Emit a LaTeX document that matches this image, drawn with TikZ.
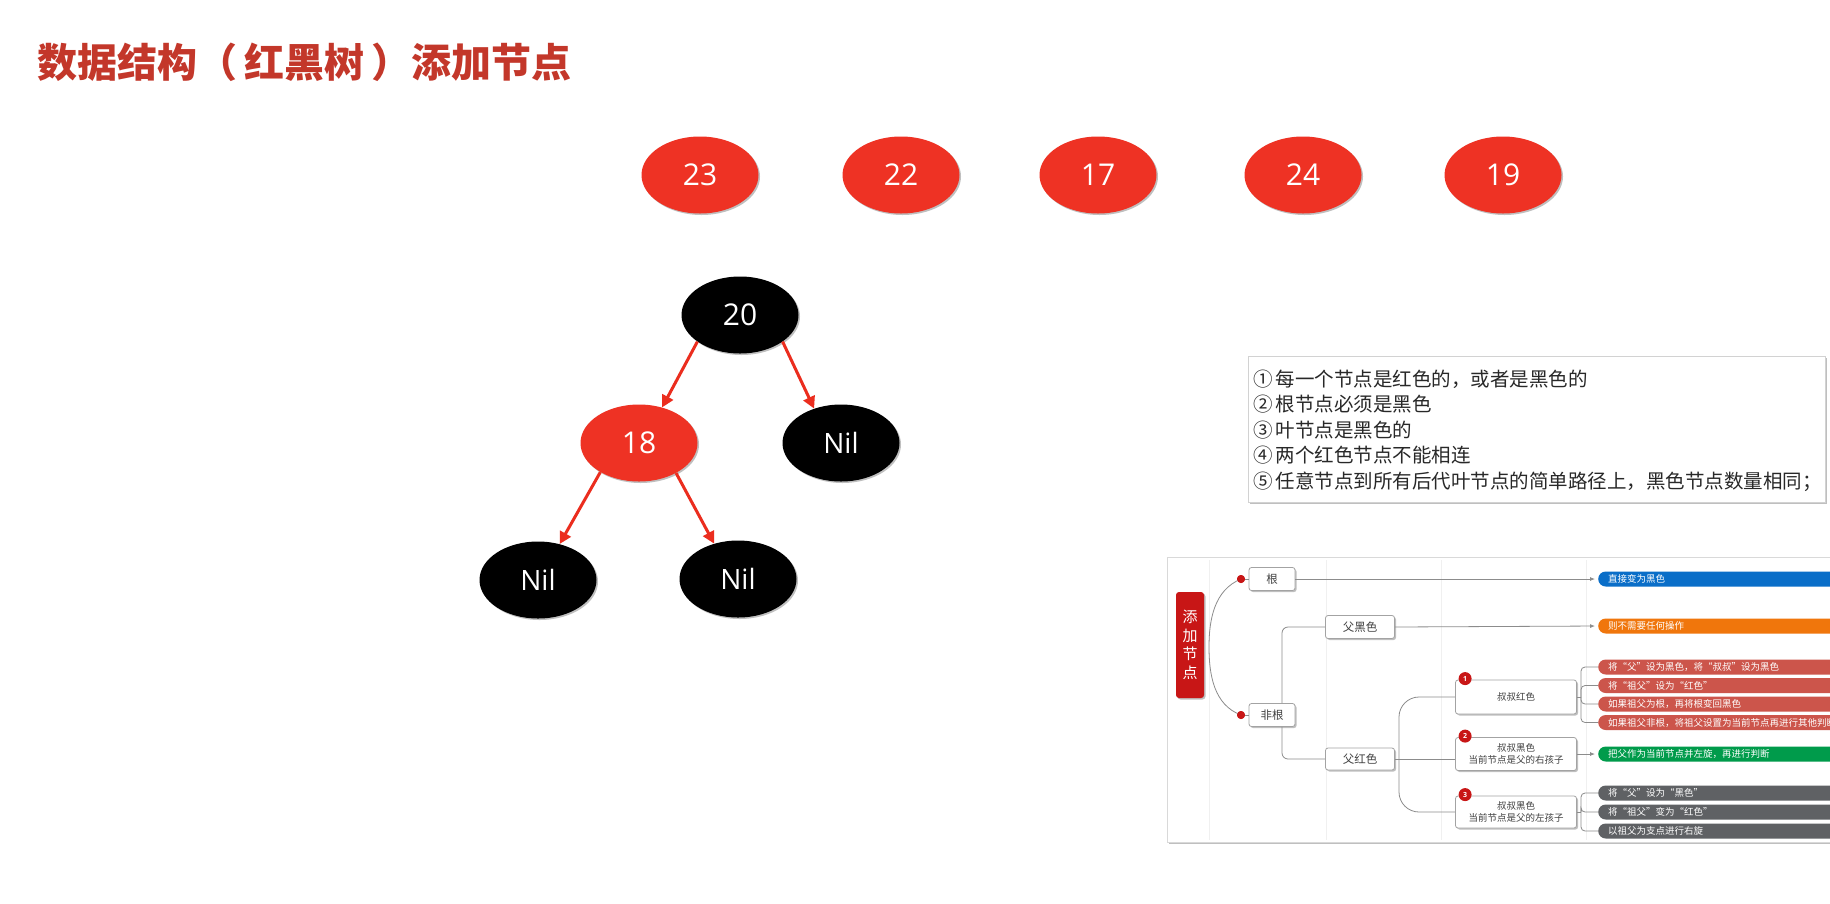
\documentclass[tikz,border=0pt]{standalone}
\usepackage{fontspec}
\setmainfont{Noto Sans CJK SC}
\newfontfamily\cjk{Noto Sans CJK SC}
\newfontfamily\numf{Open Sans}
\usetikzlibrary{shapes.geometric,arrows.meta,shadows}
\definecolor{nodered}{RGB}{238,50,36}
\definecolor{titlered}{RGB}{195,55,42}
\definecolor{arrowred}{RGB}{235,45,30}
\definecolor{mmred}{RGB}{200,22,22}
\definecolor{barred}{RGB}{204,85,75}
\definecolor{barblue}{RGB}{10,110,200}
\definecolor{barorange}{RGB}{240,118,12}
\definecolor{bargreen}{RGB}{0,155,75}
\definecolor{bargray}{RGB}{95,97,100}
\definecolor{linegray}{RGB}{140,140,140}
\definecolor{rulestext}{RGB}{40,40,40}
\begin{document}
\begin{tikzpicture}[x=1pt,y=-1pt,
  softshadow/.style={drop shadow={shadow xshift=1.5pt,shadow yshift=-1.5pt,opacity=0.25,fill=black}},
  ell/.style={ellipse,minimum width=117pt,minimum height=77pt,inner sep=0pt,text=white,
    font=\numf\fontsize{30}{36}\selectfont,softshadow},
  redell/.style={ell,fill=nodered},
  blkell/.style={ell,fill=black},
  treearrow/.style={draw=arrowred,line width=3pt,-{Triangle[length=12pt,width=12pt]}},
  conn/.style={draw=linegray,line width=0.8pt},
  mmbox/.style={draw=linegray!80,fill=white,rounded corners=2.5pt,line width=0.8pt,inner sep=0pt,
    text=black!75,align=center,softshadow},
  bar/.style={anchor=west,rounded corners=7.5pt,minimum height=15pt,minimum width=320pt,
    text width=300pt,inner xsep=10pt,inner ysep=0pt,align=left,text=white,
    font=\cjk\fontsize{9.5}{11}\selectfont},
  reddot/.style={circle,fill=mmred,minimum size=8pt,inner sep=0pt},
  numc/.style={circle,fill=mmred,minimum size=13pt,inner sep=0pt,text=white,
    font=\numf\bfseries\fontsize{7}{8}\selectfont},
  rule/.style={anchor=base west,inner sep=0pt,text=rulestext,font=\cjk\fontsize{19.5}{24}\selectfont},
  tip/.style={-{Latex[length=5pt,width=4pt]},shorten >=3pt}]
\useasboundingbox (0,0) rectangle (1830,903);
\clip (0,0) rectangle (1830,903);
\fill[white] (0,0) rectangle (1830,903);

% title
\node[anchor=west,inner sep=0pt,text=titlered,font=\cjk\bfseries\fontsize{40}{48}\selectfont] (title) at (37,62) {数据结构（\hspace{7pt}红黑树\hspace{7pt}）添加节点};

% sequence of values to insert
\node[redell] (v23) at (700,175) {23};
\node[redell] (v22) at (901,175) {22};
\node[redell] (v17) at (1098,175) {17};
\node[redell] (v24) at (1303,175) {24};
\node[redell] (v19) at (1503,175) {19};

% tree
\node[blkell] (n20) at (740,315) {20};
\node[redell] (n18) at (639,443) {18};
\node[blkell,font=\numf\fontsize{28}{34}\selectfont] (nilR) at (841,443) {Nil};
\node[blkell,font=\numf\fontsize{28}{34}\selectfont] (nilLL) at (538,580) {Nil};
\node[blkell,font=\numf\fontsize{28}{34}\selectfont] (nilLR) at (738,579) {Nil};
\draw[treearrow] (n20.212) -- (n18.57);
\draw[treearrow] (n20.-32) -- (nilR.128);
\draw[treearrow] (n18.217) -- (nilLL.59);
\draw[treearrow] (n18.-39) -- (nilLR.124);

% rules box
\node[draw=gray!35,fill=white,softshadow,anchor=north west,minimum width=577pt,minimum height=146pt,inner sep=0pt] (rulesbox) at (1248,356) {};
\node[rule] (r1) at (1253,386) {①\,每一个节点是红色的，或者是黑色的};
\node[rule] (r2) at (1253,411.5) {②\,根节点必须是黑色};
\node[rule] (r3) at (1253,437) {③\,叶节点是黑色的};
\node[rule] (r4) at (1253,462.5) {④\,两个红色节点不能相连};
\node[rule] (r5) at (1253,488) {⑤\,任意节点到所有后代叶节点的简单路径上，黑色节点数量相同；};

% mind map frame
\node[draw=gray!30,fill=white,softshadow,anchor=north west,minimum width=700pt,minimum height=285pt,inner sep=0pt] (mmframe) at (1167,557) {};
\foreach \gx in {1209,1326,1441,1586} \draw[gray!12,line width=0.6pt] (\gx,560) -- (\gx,840);

% mind map nodes
\node[fill=mmred,rounded corners=3pt,minimum width=28pt,minimum height=106pt,inner sep=0pt,text=white,
  align=center,font=\cjk\fontsize{15}{18.5}\selectfont,softshadow] (main) at (1190,645) {添\\加\\节\\点};
\node[mmbox,minimum width=46pt,minimum height=23pt,font=\cjk\fontsize{11.5}{13}\selectfont] (gen) at (1272,579) {根};
\node[mmbox,minimum width=46pt,minimum height=23pt,font=\cjk\fontsize{11.5}{13}\selectfont] (feigen) at (1272,715) {非根};
\node[mmbox,minimum width=69pt,minimum height=23pt,font=\cjk\fontsize{11.5}{13}\selectfont] (fuhei) at (1360,627) {父黑色};
\node[mmbox,minimum width=69pt,minimum height=22pt,font=\cjk\fontsize{11.5}{13}\selectfont] (fuhong) at (1360,759) {父红色};
\node[mmbox,minimum width=121pt,minimum height=34pt,font=\cjk\fontsize{9.5}{12}\selectfont] (box1) at (1516,697) {叔叔红色};
\node[mmbox,minimum width=121pt,minimum height=33pt,font=\cjk\fontsize{9.5}{12}\selectfont] (box2) at (1516,754) {叔叔黑色\\当前节点是父的右孩子};
\node[mmbox,minimum width=121pt,minimum height=32pt,font=\cjk\fontsize{9.5}{12}\selectfont] (box3) at (1516,812) {叔叔黑色\\当前节点是父的左孩子};
\node[numc] (c1) at ([xshift=10pt,yshift=1pt]box1.north west) {1};
\node[numc] (c2) at ([xshift=10pt,yshift=1pt]box2.north west) {2};
\node[numc] (c3) at ([xshift=10pt,yshift=1pt]box3.north west) {3};

% bars
\node[bar,fill=barblue] (bblue) at (1598,579) {直接变为黑色};
\node[bar,fill=barorange] (borange) at (1598,626) {则不需要任何操作};
\node[bar,fill=barred] (bred1) at (1598,667) {将“父”设为黑色，将“叔叔”设为黑色};
\node[bar,fill=barred] (bred2) at (1598,685.5) {将“祖父”设为“红色”};
\node[bar,fill=barred] (bred3) at (1598,704) {如果祖父为根，再将根变回黑色};
\node[bar,fill=barred] (bred4) at (1598,722.5) {如果祖父非根，将祖父设置为当前节点再进行其他判断};
\node[bar,fill=bargreen] (bgreen) at (1598,754) {把父作为当前节点并左旋，再进行判断};
\node[bar,fill=bargray] (bgray1) at (1598,793) {将“父”设为“黑色”};
\node[bar,fill=bargray] (bgray2) at (1598,812) {将“祖父”变为“红色”};
\node[bar,fill=bargray] (bgray3) at (1598,831) {以祖父为支点进行右旋};

% mind map connectors
\coordinate (brace) at (1209,647);
\node[reddot] (d1) at (1241,579) {};
\node[reddot] (d2) at (1241,715) {};
\draw[conn] (d1.center) .. controls (1214,590) and (1209,620) .. (brace) .. controls (1209,675) and (1214,705) .. (d2.center);
\node[reddot] at (d1) {};
\node[reddot] at (d2) {};
\draw[conn] (d1) -- (gen.west);
\draw[conn] (d2) -- (feigen.west);
\draw[conn,tip] (gen.east) -- (bblue.west);
\draw[conn,tip] (fuhei.east) -- (borange.west);
\draw[conn,rounded corners=6pt] ([xshift=10pt]feigen.north) |- (fuhei.west);
\draw[conn,rounded corners=6pt] ([xshift=10pt]feigen.south) |- (fuhong.west);
\coordinate (fork) at (1399,759);
\draw[conn] (fuhong.east) -- (fork);
\draw[conn,rounded corners=20pt] (fork) |- (box1.west);
\draw[conn] (fork) -- (box2.west |- fork);
\draw[conn,rounded corners=20pt] (fork) |- (box3.west);
\coordinate (br1) at (1581,697);
\draw[conn] (box1.east) -- (br1);
\foreach \b in {bred1,bred2,bred3,bred4} \draw[conn,rounded corners=4pt] (br1) |- (\b.west);
\draw[conn,tip] (box2.east) -- (bgreen.west);
\coordinate (br3) at (1581,812);
\draw[conn] (box3.east) -- (br3);
\foreach \b in {bgray1,bgray2,bgray3} \draw[conn,rounded corners=4pt] (br3) |- (\b.west);
\end{tikzpicture}
\end{document}
